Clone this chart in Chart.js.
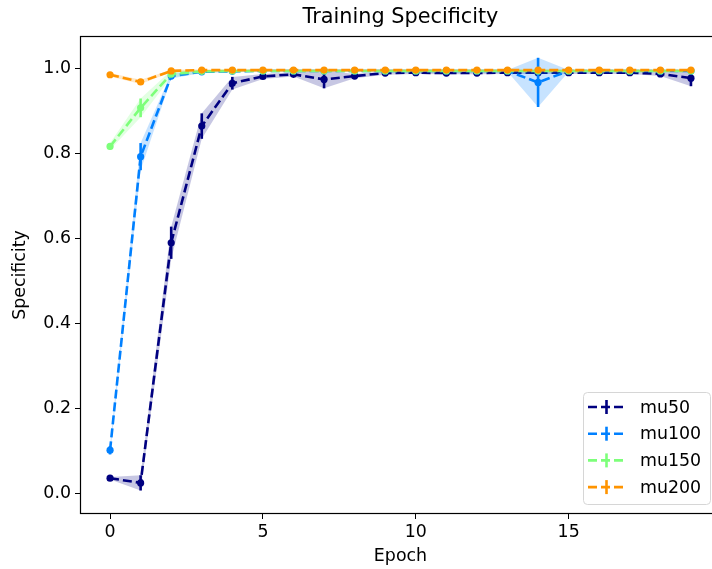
<!DOCTYPE html>
<html>
<head>
<meta charset="utf-8">
<script src="https://cdn.jsdelivr.net/npm/chart.js@4/dist/chart.umd.min.js"></script>
<style>
  html, body { margin: 0; padding: 0; overflow: hidden; background: #fff; }
</style>
</head>
<body>
<canvas id="myChart" width="724" height="569"></canvas>
<script>
// data
const epochs = [0, 1, 2, 3, 4, 5, 6, 7, 8, 9, 10, 11, 12, 13, 14, 15, 16, 17, 18, 19];
const xTicks = [0, 5, 10, 15];
const yTicks = [0.0, 0.2, 0.4, 0.6, 0.8, 1.0];

const mu50 = [0.035, 0.024, 0.590, 0.865, 0.966, 0.982, 0.987, 0.975, 0.983, 0.990, 0.991, 0.990, 0.990, 0.991, 0.991, 0.991, 0.991, 0.991, 0.988, 0.978];
const mu50Std = [0.003, 0.018, 0.038, 0.030, 0.015, 0.006, 0.005, 0.021, 0.005, 0.004, 0.003, 0.003, 0.003, 0.003, 0.003, 0.003, 0.003, 0.003, 0.005, 0.019];

const mu100 = [0.101, 0.793, 0.983, 0.993, 0.994, 0.995, 0.995, 0.995, 0.995, 0.995, 0.995, 0.995, 0.995, 0.995, 0.968, 0.995, 0.995, 0.995, 0.995, 0.995];
const mu100Std = [0.010, 0.032, 0.006, 0.003, 0.002, 0.002, 0.002, 0.002, 0.002, 0.002, 0.002, 0.002, 0.002, 0.002, 0.058, 0.002, 0.002, 0.002, 0.002, 0.002];

const mu150 = [0.817, 0.908, 0.988, 0.994, 0.995, 0.995, 0.995, 0.995, 0.995, 0.995, 0.995, 0.995, 0.995, 0.995, 0.995, 0.995, 0.995, 0.995, 0.995, 0.995];
const mu150Std = [0.008, 0.022, 0.008, 0.003, 0.002, 0.002, 0.002, 0.002, 0.002, 0.002, 0.002, 0.002, 0.002, 0.002, 0.002, 0.002, 0.002, 0.002, 0.002, 0.002];

const mu200 = [0.986, 0.969, 0.995, 0.997, 0.997, 0.997, 0.997, 0.997, 0.997, 0.997, 0.997, 0.997, 0.997, 0.997, 0.997, 0.997, 0.997, 0.997, 0.997, 0.997];
const mu200Std = [0.004, 0.005, 0.003, 0.002, 0.002, 0.002, 0.002, 0.002, 0.002, 0.002, 0.002, 0.002, 0.002, 0.002, 0.002, 0.002, 0.002, 0.002, 0.002, 0.002];

const names = ['mu50', 'mu100', 'mu150', 'mu200'];
const means = [mu50, mu100, mu150, mu200];
const stds = [mu50Std, mu100Std, mu150Std, mu200Std];
const colors = [[0, 0, 128], [0, 128, 255], [125, 255, 122], [255, 148, 0]];

function rgba(c, a) {
  return 'rgba(' + c[0] + ',' + c[1] + ',' + c[2] + ',' + a + ')';
}

const FONT = "'DejaVu Sans', sans-serif";
const TXT = 17.4;

var datasets = [];
for (let k = 0; k < names.length; k++) {
  const order = 40 - k * 10;
  const m = means[k], s = stds[k];
  datasets.push({
    label: names[k] + ' upper',
    data: epochs.map((x, i) => ({ x: x, y: m[i] + s[i] })),
    borderWidth: 0, pointRadius: 0, fill: false, order: order + 5
  });
  datasets.push({
    label: names[k] + ' lower',
    data: epochs.map((x, i) => ({ x: x, y: m[i] - s[i] })),
    borderWidth: 0, pointRadius: 0, fill: '-1',
    backgroundColor: rgba(colors[k], 0.22), order: order + 5
  });
  datasets.push({
    label: names[k],
    data: epochs.map((x, i) => ({ x: x, y: m[i] })),
    errStd: s,
    borderColor: rgba(colors[k], 1),
    backgroundColor: rgba(colors[k], 1),
    borderWidth: 2.6,
    borderDash: [9, 4],
    pointRadius: 3.6,
    pointBorderWidth: 0,
    pointBackgroundColor: rgba(colors[k], 1),
    fill: false,
    order: order
  });
}

const errorBars = {
  id: 'errorBars',
  beforeDatasetDraw(chart, args) {
    const ds = chart.data.datasets[args.index];
    if (!ds.errStd) return;
    const ctx = chart.ctx;
    const y = chart.scales.y;
    ctx.save();
    ctx.strokeStyle = ds.borderColor;
    ctx.lineWidth = 2.6;
    args.meta.data.forEach((pt, i) => {
      const v = ds.data[i].y;
      ctx.beginPath();
      ctx.moveTo(pt.x, y.getPixelForValue(v - ds.errStd[i]));
      ctx.lineTo(pt.x, y.getPixelForValue(v + ds.errStd[i]));
      ctx.stroke();
    });
    ctx.restore();
  }
};

const frameAndText = {
  id: 'frameAndText',
  afterDraw(chart) {
    const ctx = chart.ctx;
    const a = chart.chartArea;
    ctx.save();
    // axes frame
    ctx.strokeStyle = '#000';
    ctx.lineWidth = 1.2;
    ctx.strokeRect(Math.round(a.left) - 0.5, Math.round(a.top) - 0.5,
      Math.round(a.right - a.left) + 1, Math.round(a.bottom - a.top) + 1);
    // title
    ctx.fillStyle = '#000';
    ctx.font = '20.8px ' + FONT;
    ctx.textAlign = 'center';
    ctx.textBaseline = 'middle';
    ctx.fillText('Training Specificity', (a.left + a.right) / 2, 18);

    // legend
    const bx = 583, by = 392, bw = 127, bh = 112;
    ctx.beginPath();
    ctx.roundRect(bx + 0.5, by + 0.5, bw, bh, 4);
    ctx.fillStyle = 'rgba(255,255,255,0.8)';
    ctx.fill();
    ctx.lineWidth = 1;
    ctx.strokeStyle = '#d6d6d6';
    ctx.stroke();
    ctx.font = TXT + 'px ' + FONT;
    ctx.textAlign = 'left';
    for (let k = 0; k < names.length; k++) {
      const ry = by + 15 + k * 26.7;
      ctx.strokeStyle = rgba(colors[k], 1);
      ctx.lineWidth = 2.6;
      ctx.setLineDash([9, 4]);
      ctx.beginPath();
      ctx.moveTo(588, ry);
      ctx.lineTo(625, ry);
      ctx.stroke();
      ctx.setLineDash([]);
      ctx.beginPath();
      ctx.moveTo(606.5, ry - 7);
      ctx.lineTo(606.5, ry + 7);
      ctx.stroke();
      ctx.fillStyle = '#000';
      ctx.fillText(names[k], 640, ry + 1);
    }
    ctx.restore();
  }
};

window.onload = function () {
  const ctx = document.getElementById('myChart');
  new Chart(ctx, {
    type: 'line',
    data: { datasets: datasets },
    plugins: [errorBars, frameAndText],
    options: {
      responsive: false,
      animation: false,
      devicePixelRatio: 1,
      layout: { padding: { top: 37, right: 4, left: 0, bottom: 0 } },
      plugins: {
        legend: { display: false },
        tooltip: { enabled: false }
      },
      scales: {
        x: {
          type: 'linear',
          min: -0.95,
          max: 19.95,
          afterBuildTicks: s => { s.ticks = xTicks.map(v => ({ value: v })); },
          afterFit: s => { s.height = 56; },
          grid: { drawOnChartArea: false, drawTicks: true, tickLength: 6, color: '#000' },
          border: { display: false },
          ticks: { color: '#000', font: { family: FONT, size: TXT }, padding: 3, maxRotation: 0 },
          title: { display: true, text: 'Epoch', color: '#000', font: { family: FONT, size: TXT }, padding: { top: 0, bottom: 2 } }
        },
        y: {
          type: 'linear',
          min: -0.047,
          max: 1.075,
          afterBuildTicks: s => { s.ticks = yTicks.map(v => ({ value: v })); },
          afterFit: s => { s.width = 81; },
          grid: { drawOnChartArea: false, drawTicks: true, tickLength: 6, color: '#000' },
          border: { display: false },
          ticks: { color: '#000', font: { family: FONT, size: TXT }, padding: 4, callback: v => v.toFixed(1) },
          title: { display: true, text: 'Specificity', color: '#000', font: { family: FONT, size: TXT }, padding: { top: 10, bottom: 0 } }
        }
      }
    }
  });
};
</script>
</body>
</html>
